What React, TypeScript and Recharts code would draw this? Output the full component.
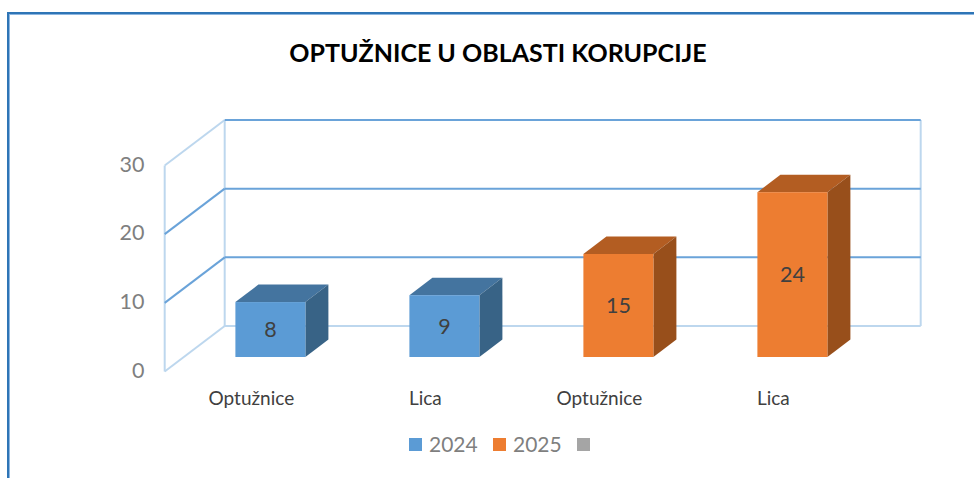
import React from "react";
import {
  BarChart,
  Bar,
  XAxis,
  YAxis,
  CartesianGrid,
  Legend,
  LabelList,
} from "recharts";

const categories = ["Optužnice", "Lica", "Optužnice", "Lica"];
const values2024 = [8, 9, null, null];
const values2025 = [null, null, 15, 24];
const valuesBlank = [null, null, null, null];
const yTicks = [0, 10, 20, 30];

const data = categories.map((name, i) => ({
  name,
  y2024: values2024[i],
  y2025: values2025[i],
  blank: valuesBlank[i],
}));

const FONT = "Lato, 'Open Sans', sans-serif";
const LIGHT = "#BDD7EE";
const DARK = "#6AA3D9";

// 3d look: how far the bar and the walls sit from the value plane
const DEPTH_X = 23;
const DEPTH_Y = 17.5;
const FRONT_DX = -18.7;
const FRONT_DY = 14.5;
const BACK_DX = 41.3;
const BACK_DY = -31;

function Bar3D({ x, y, width, height, fill, top, side }: any) {
  if (!height) return null;
  const r = x + width;
  const b = y + height;
  return (
    <g>
      <polygon
        points={`${x},${y} ${x + DEPTH_X},${y - DEPTH_Y} ${r + DEPTH_X},${y - DEPTH_Y} ${r},${y}`}
        fill={top}
      />
      <polygon
        points={`${r},${y} ${r + DEPTH_X},${y - DEPTH_Y} ${r + DEPTH_X},${b - DEPTH_Y} ${r},${b}`}
        fill={side}
      />
      <rect x={x} y={y} width={width} height={height} fill={fill} />
    </g>
  );
}

// one grid line = floor/side wall diagonal + back wall horizontal
function GridLine3D(props: any) {
  const { x1, x2, y1, index, y, height } = props;
  const ratio = (y1 - y) / height;
  const edge = ratio < 0.01 || ratio > 0.99;
  const diagonal = edge ? LIGHT : DARK;
  const horizontal = ratio > 0.99 ? LIGHT : DARK;
  return (
    <g key={index}>
      {index === 0 && (
        <g stroke={LIGHT} strokeWidth={2} fill="none">
          <line x1={x1 + FRONT_DX} x2={x1 + FRONT_DX} y1={y + FRONT_DY} y2={y + height + FRONT_DY} />
          <line x1={x1 + BACK_DX} x2={x1 + BACK_DX} y1={y + BACK_DY} y2={y + height + BACK_DY} />
          <line x1={x2 + BACK_DX} x2={x2 + BACK_DX} y1={y + BACK_DY} y2={y + height + BACK_DY} />
        </g>
      )}
      <line x1={x1 + FRONT_DX} y1={y1 + FRONT_DY} x2={x1 + BACK_DX} y2={y1 + BACK_DY} stroke={diagonal} strokeWidth={2} />
      <line x1={x1 + BACK_DX} y1={y1 + BACK_DY} x2={x2 + BACK_DX} y2={y1 + BACK_DY} stroke={horizontal} strokeWidth={2} />
    </g>
  );
}

function YTick({ x, y, payload }: any) {
  return (
    <text x={x - 31} y={y + 12.5} textAnchor="end" dominantBaseline="central" fontFamily={FONT} fontSize={21.5} fill="#7F7F7F">
      {payload.value}
    </text>
  );
}

function XTick({ x, y, payload }: any) {
  return (
    <text x={x - 19} y={y + 32} textAnchor="middle" dominantBaseline="central" fontFamily={FONT} fontSize={19} fill="#404040">
      {payload.value}
    </text>
  );
}

function LegendRow({ payload }: any) {
  return (
    <div style={{ display: "flex", fontFamily: FONT, fontSize: 21, color: "#7F7F7F", lineHeight: "28px" }}>
      {(payload || []).map((entry: any, i: number) => (
        <div key={i} style={{ display: "flex", alignItems: "center", width: 84 }}>
          <span style={{ width: 13, height: 13, background: entry.color, marginRight: 7 }} />
          <span>{entry.value}</span>
        </div>
      ))}
    </div>
  );
}

export default function App() {
  return (
    <div style={{ position: "absolute", left: 0, top: 0, width: 974, height: 478, background: "#fff", overflow: "hidden" }}>
      <div
        style={{
          position: "absolute",
          left: 7,
          top: 12,
          right: 0,
          bottom: 0,
          borderTop: "2px solid #2E75B6",
          borderLeft: "2px solid #2E75B6",
          boxShadow: "inset 1px 1px 0 #8DB6E0",
        }}
      />
      <div
        style={{
          position: "absolute",
          left: 0,
          top: 35,
          width: 996,
          textAlign: "center",
          fontFamily: FONT,
          fontWeight: 700,
          fontSize: 25,
          lineHeight: "34px",
          color: "#000",
        }}
      >
        OPTUŽNICE U OBLASTI KORUPCIJE
      </div>
      <div style={{ position: "absolute", left: 0, top: 0 }}>
        <BarChart
          width={974}
          height={478}
          data={data}
          barSize={70}
          margin={{ top: 151, right: 94.6, bottom: 81, left: 0 }}
        >
          <CartesianGrid vertical={false} horizontal={(p: any) => <GridLine3D {...p} />} />
          <XAxis dataKey="name" height={40} interval={0} axisLine={false} tickLine={false} tick={<XTick />} />
          <YAxis width={183.4} domain={[0, 30]} ticks={yTicks} axisLine={false} tickLine={false} tick={<YTick />} />
          <Legend
            layout="horizontal"
            verticalAlign="middle"
            itemSorter={null}
            content={<LegendRow />}
            wrapperStyle={{ left: 409, top: 430, width: 260, height: 28 }}
          />
          <Bar
            dataKey="y2024"
            name="2024"
            stackId="a"
            fill="#5B9BD5"
            isAnimationActive={false}
            shape={<Bar3D top="#44749F" side="#386386" />}
          >
            <LabelList dataKey="y2024" position="center" fontFamily={FONT} fontSize={21.5} fill="#404040" />
          </Bar>
          <Bar
            dataKey="y2025"
            name="2025"
            stackId="a"
            fill="#ED7D31"
            isAnimationActive={false}
            shape={<Bar3D top="#B35D22" side="#984F1B" />}
          >
            <LabelList dataKey="y2025" position="center" fontFamily={FONT} fontSize={21.5} fill="#404040" />
          </Bar>
          <Bar dataKey="blank" name=" " stackId="a" fill="#A5A5A5" isAnimationActive={false} shape={<Bar3D />} />
        </BarChart>
      </div>
    </div>
  );
}
